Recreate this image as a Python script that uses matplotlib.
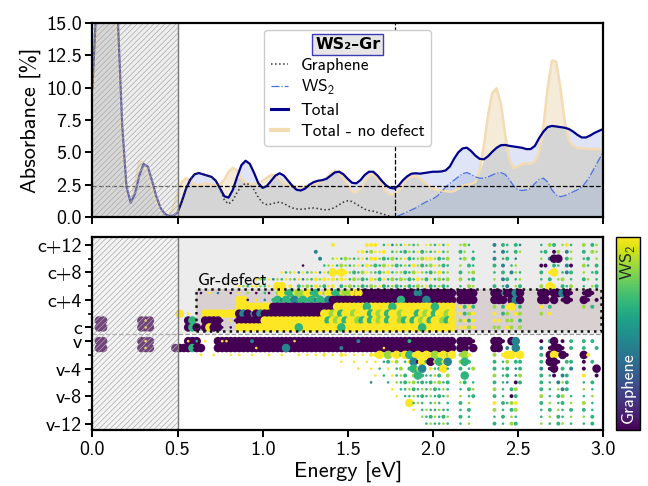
import numpy as np
import matplotlib
matplotlib.use("Agg")
import matplotlib.pyplot as plt
from matplotlib.patches import Rectangle
from matplotlib.lines import Line2D
from matplotlib.font_manager import FontProperties
from matplotlib.colors import Normalize
from matplotlib.cm import ScalarMappable

plt.rcParams['font.family'] = ['cmss10', 'DejaVu Sans']
plt.rcParams['mathtext.fontset'] = 'custom'
plt.rcParams['mathtext.rm'] = 'cmss10'
plt.rcParams['mathtext.it'] = 'cmss10'
plt.rcParams['mathtext.bf'] = 'cmss10'
plt.rcParams['axes.unicode_minus'] = False
plt.rcParams['hatch.linewidth'] = 0.5

# ---------------- absorbance spectra (top panel) ----------------
energy = np.round(np.arange(0, 121) * 0.025, 3)

total = [10, 17, 24, 28, 27, 22, 15, 7, 2.3, 1.1, 1.8, 3.2, 4.1, 3.9, 2.8, 1.6, 0.7, 0.25, 0.08, 0.1,
         0.35, 1.2, 2.2, 2.9, 3.3, 3.4, 3.3, 3.2, 3.1, 2.8, 2.2, 1.6, 1.5, 2.1, 3.1, 4.0, 4.35, 4.1, 3.4, 2.6,
         2.25, 2.4, 2.8, 3.2, 3.38, 3.2, 2.8, 2.4, 2.1, 2.05, 2.2, 2.5, 2.7, 2.8, 2.85, 2.95, 3.2, 3.45, 3.5, 3.3,
         2.95, 2.65, 2.6, 2.85, 3.25, 3.5, 3.5, 3.2, 2.8, 2.45, 2.25, 2.2, 2.45, 2.85, 3.15, 3.35, 3.38, 3.35, 3.4, 3.45,
         3.5, 3.5, 3.52, 3.6, 3.9, 4.5, 5.0, 5.3, 5.36, 5.1, 4.75, 4.5, 4.46, 4.7, 5.05, 5.35, 5.55, 5.57, 5.5, 5.45,
         5.4, 5.35, 5.25, 5.25, 5.5, 6.1, 6.6, 6.95, 7.04, 7.0, 6.95, 6.9, 6.8, 6.6, 6.35, 6.15, 6.15, 6.3, 6.5, 6.65,
         6.8]

no_defect = [9, 16, 23, 27, 25, 19, 12.5, 5.5, 1.8, 1.2, 2.6, 4.3, 4.2, 3.1, 2.0, 1.1, 0.5, 0.15, 0.1, 0.8,
             1.9, 2.7, 3.0, 2.8, 2.5, 2.45, 2.55, 2.6, 2.5, 2.45, 2.5, 2.9, 3.5, 3.8, 3.6, 3.0, 2.65, 2.55, 2.55, 2.65,
             2.8, 3.05, 3.25, 3.2, 2.95, 2.65, 2.45, 2.4, 2.35, 2.3, 2.35, 2.45, 2.55, 2.65, 2.75, 3.0, 3.35, 3.58, 3.45, 3.0,
             2.45, 2.0, 1.9, 2.2, 2.75, 3.2, 3.3, 3.0, 2.5, 2.0, 1.75, 1.75, 2.0, 2.5, 2.95, 3.15, 3.17, 3.0, 2.7, 2.4,
             2.2, 2.1, 2.05, 2.0, 1.95, 2.0, 2.2, 2.4, 2.5, 2.55, 2.7, 3.6, 5.5, 7.9, 9.6, 9.95, 8.8, 6.4, 4.4, 3.8,
             3.9, 4.1, 4.15, 4.1, 4.3, 5.0, 7.0, 10.0, 12.1, 12.0, 10.0, 7.4, 5.9, 5.5, 5.35, 5.3, 5.3, 5.25, 5.25, 5.25,
             5.2]

graphene = [10, 17, 24, 28, 27, 22, 15, 7, 2.3, 1.1, 1.8, 3.2, 4.1, 3.9, 2.8, 1.6, 0.7, 0.25, 0.08, 0.1,
            0.35, 1.2, 2.2, 2.9, 3.3, 3.4, 3.3, 3.2, 3.1, 2.8, 2.2, 1.3, 1.0, 1.3, 1.9, 2.4, 2.6, 2.5, 2.1, 1.5,
            1.1, 0.95, 1.0, 1.1, 1.15, 1.05, 0.85, 0.7, 0.62, 0.6, 0.62, 0.68, 0.7, 0.65, 0.58, 0.55, 0.6, 0.75, 0.95, 1.15,
            1.25, 1.2, 1.0, 0.8, 0.6, 0.5, 0.45, 0.35, 0.25, 0.15, 0.05, 0.0, 0, 0, 0, 0, 0, 0, 0, 0,
            0, 0, 0, 0, 0, 0, 0, 0, 0, 0, 0, 0, 0, 0, 0, 0, 0, 0, 0, 0,
            0, 0, 0, 0, 0, 0, 0, 0, 0, 0, 0, 0, 0, 0, 0, 0, 0, 0, 0, 0,
            0]

ws2 = [0] * 71 + [0.0, 0.1, 0.25, 0.4, 0.55, 0.7, 0.9, 1.1, 1.25, 1.4,
                  1.6, 1.95, 2.3, 2.6, 2.85, 3.1, 3.35, 3.43, 3.3, 3.1, 3.0, 3.0, 3.1, 3.25, 3.4, 3.43, 3.3, 2.9, 2.4, 2.1,
                  2.05, 2.1, 2.2, 2.6, 2.9, 3.0, 2.7, 2.1, 1.7, 1.57, 1.65, 1.8, 1.95, 2.1, 2.3, 2.7, 3.2, 3.8, 4.4, 4.97]

ref_level = 2.42
gap_energy = 1.777

# ---------------- transition map (bottom panel) ----------------
band_ticks = [13, 9, 5, 1, -1, -5, -9, -13]
band_labels = ['c+12', 'c+8', 'c+4', 'c', 'v', 'v-4', 'v-8', 'v-12']
band_minor = [11, 7, 3, -3, -7, -11]

kgrid = np.round(0.0125 + 0.025 * np.arange(120), 4)

C1 = (2.14, 2.26)
C2 = (2.35, 2.53)
C3 = (2.63, 2.82)
C4 = (2.88, 2.98)

band_rows = {
    13: [(1.40, 1.42, '6'), (1.60, 1.68, '66'), (1.70, 2.10, 'gytlgylgl.ylgy'),
         (*C1, 'l5g.'), (*C2, '3.4g.4t'), (*C3, 'g.54.l6g'), (*C4, '5.4l')],
    12: [(1.30, 1.32, '3'), (1.44, 1.46, '6'), (1.55, 1.72, 'y6g5y'), (1.75, 2.10, 'glg4lgy4lgly'),
         (*C1, '4l.g'), (*C2, 't.3g.4l'), (*C3, 'g4.15.3l'), (*C4, '4.5l')],
    11: [(1.33, 1.36, '3'), (1.40, 1.62, 'lyg5lg'), (1.62, 2.10, '66l4g5gly4gl5'),
         (*C1, 'g5.4'), (*C2, '3.g4.t.'), (*C3, 'l.3PP.4'), (*C4, 'g4.l')],
    10: [(1.23, 1.26, 'pp'), (1.35, 1.60, 'glyg5l'), (1.60, 2.10, '6l4g5yl4glg'),
         (*C1, 'l.4g'), (*C2, '4.3.gl.'), (*C3, '11.4g.3'), (*C4, '5g.4')],
    9: [(1.10, 1.40, 'yglyt'), (1.40, 1.50, 'Y6'), (1.50, 2.10, 'l4g5ylg4l6gl'),
        (*C1, '4.l5'), (*C2, 'g.4.3l'), (*C3, '4.6Y.g3'), (*C4, 'l.g4')],
    8: [(0.95, 1.30, 'ylgytlg'), (1.30, 1.50, '6l6y'), (1.50, 2.10, 'g5l4g6l4yg5'),
        (*C1, '5.g4'), (*C2, 'l.34.g'), (*C3, 'g.4.l5.'), (*C4, '4l.g')],
    7: [(0.85, 1.05, 'ylgy'), (1.08, 1.12, 'Y'), (1.15, 1.55, '6.4l5g6l4y'), (1.55, 2.10, 'l4g5ly4gl4g'),
        (*C1, 'g.5l'), (*C2, '4.g3.l'), (*C3, '5.Y6.4g'), (*C4, 'g.l4')],
    6: [(0.62, 1.07, 'p.y.t..p.y.l.p.g'), (1.07, 1.54, '5Y4G6L5Y4G6'), (1.54, 2.12, 'P'),
        (1.55, 1.57, 'Y'), (1.74, 1.76, 'T'), (1.90, 1.92, 'T'),
        (*C1, 'PPPP'), (*C2, 'PP3PPTP'), (*C3, 'PP1PPTP1'), (*C4, '1P1.')],
    5: [(0.86, 0.89, 'Y'), (0.90, 1.04, 'p.y.t.'), (1.05, 1.40, '4G3G4T4G'), (1.40, 2.12, 'P'),
        (1.80, 1.82, 'G'), (1.95, 1.97, 'T'),
        (*C1, 'PPPP'), (*C2, 'PPP.PTP'), (*C3, 'PP.P.1P1'), (*C4, 'P1.1')],
    4: [(0.60, 0.62, 'y'), (0.86, 1.05, 'Y'), (1.05, 1.42, 'P'), (1.42, 2.12, 'Y'),
        (1.60, 1.62, 'G'), (1.75, 1.77, 'G'), (2.00, 2.02, 'G'),
        (*C1, '6464'), (*C2, '5.46Y.4'), (*C3, '6.4.....'), (*C4, '5.4.')],
    3: [(0.51, 0.53, 'Y'), (0.56, 0.58, 'y'), (0.64, 0.74, 'Y'), (0.76, 0.84, 'Y'), (0.84, 1.01, 'PTP3PTP'),
        (1.01, 1.37, 'P'), (1.36, 1.38, 'Y'), (1.37, 2.12, 'YLYGYYLY6YG'),
        (*C1, '6456'), (*C2, '6.45.65'), (*C3, '5.6.....')],
    2: [(0.02, 0.07, 'P'), (0.27, 0.36, 'P'), (0.04, 0.05, 'y'), (0.30, 0.32, 'y'),
        (0.56, 0.60, 'PG'), (0.66, 0.74, 'P'), (0.76, 0.84, 'p.y'), (0.84, 1.01, 'P'),
        (1.01, 1.37, 'Y'), (1.37, 2.12, 'GYLYGYYLGY'), (*C1, '5646'), (*C2, '66.55.4')],
    1: [(0.02, 0.07, 'P'), (0.27, 0.36, 'P'), (0.04, 0.05, 'y'), (0.30, 0.32, 'y'),
        (0.54, 0.62, 'PGP'), (0.66, 0.74, 'PYP'), (0.76, 0.86, 'p.p.'), (0.86, 2.12, 'Y'),
        (1.20, 1.22, 'G'), (1.45, 1.47, 'G'), (1.92, 1.94, 'G'),
        (*C1, '6656'), (*C2, '55.65.5')],
    -1: [(0.02, 0.07, 'P'), (0.27, 0.36, 'P'), (0.04, 0.05, 'y'), (0.30, 0.32, 'y'),
         (0.55, 0.62, 'P'), (0.56, 0.58, 'y'), (0.60, 0.62, 'g'), (0.64, 0.68, 'yy'), (0.72, 2.12, 'P'),
         (0.75, 0.80, 'yy'), (0.93, 0.95, '3'), (1.17, 1.19, 'y'), (1.34, 1.36, 'G'), (1.55, 1.57, '3'),
         (1.86, 1.88, '4'),
         (*C1, 'PPP1'), (*C2, 'PP1.PT.'), (*C3, '1.4P.1.4'), (*C4, '4.4.')],
    -2: [(0.02, 0.07, 'P'), (0.27, 0.36, 'P'), (0.04, 0.05, 'y'), (0.30, 0.32, 'y'),
         (0.48, 0.54, 'P'), (0.56, 0.66, 'PGP'), (0.58, 0.60, 'g'), (0.72, 2.12, 'P'),
         (0.95, 0.97, 'y'), (1.12, 1.14, 'T'), (1.45, 1.47, '3'), (1.70, 1.72, 'y'),
         (*C1, 'PP.P'), (*C2, 'PP.3.T.'), (*C3, '3.1PP1.4'), (*C4, '4..4')],
    -3: [(0.62, 1.24, 'y..y...y.y..y...'), (1.25, 1.66, 'y.y.6.y.6y.'), (1.66, 2.12, '6Y6L6Y5YG6Y'),
         (*C1, '5L6.'), (*C2, '5.6YY.Y'), (*C3, '4.PY6P1.'), (*C4, 'P6..')],
    -4: [(1.45, 1.47, 'y'), (1.52, 1.54, 'y'), (1.60, 1.72, 'y.y.g'), (1.72, 1.84, '4y5.g'),
         (1.84, 2.10, '6T1Y4P5G6T'),
         (*C1, '5G4.'), (*C2, '4.g5.4'), (*C3, '4.PP1.4'), (*C4, '1.4.')],
    -5: [(1.55, 1.57, 'y'), (1.62, 1.76, 'y.g.y'), (1.77, 2.10, 'g5.4G5T.6g4Y'),
         (*C1, '4.g5'), (*C2, '4.g4.t'), (*C3, '3.1P.4.'), (*C4, '1..P')],
    -6: [(1.66, 1.68, 'y'), (1.70, 1.78, 'g.y'), (1.78, 2.10, 'gl4.5G4g'), (2.17, 2.19, 'G'),
         (*C2, '5.g4.t'), (*C3, '4.g1.3'), (*C4, '6..1')],
    -7: [(1.62, 1.64, 't'), (1.72, 1.80, 'g.l'), (1.80, 2.10, 'g4l5g4'),
         (*C1, 'l4.g'), (*C2, '4.gt.1'), (*C3, '4.g.3l'), (*C4, 'g.4.')],
    -8: [(1.75, 1.82, 'y.g'), (1.82, 2.10, 'gl4gl'),
         (*C1, 'g.4l'), (*C2, '5.g.4'), (*C3, '4.g.l3'), (*C4, 'l.g.')],
    -9: [(1.78, 1.84, 'y.g'), (1.84, 2.10, 'glg4'),
         (*C1, 'l.g4'), (*C2, '4.g.1'), (*C3, '5.g.4'), (*C4, 'g.l.')],
    -10: [(1.86, 1.88, 'Y'), (1.88, 2.10, 'glg.'),
          (*C1, '4.l.'), (*C2, '6.4g5'), (*C3, '4.l.g'), (*C4, '5.g.')],
    -11: [(1.88, 1.90, 'y'), (1.92, 2.10, 'glg'),
          (*C1, 'g.4.'), (*C2, '5.g.4'), (*C3, 'g.4.l'), (*C4, '4.g.')],
    -12: [(1.92, 2.10, 'lg4'),
          (*C1, '4.g.'), (*C2, 'g.4.l'), (*C3, 'g.l.4'), (*C4, 'l.4.')],
    -13: [(1.95, 2.10, 'glg'),
          (*C1, 'g.l.'), (*C2, '4.g.5'), (*C3, 'l.g.4'), (*C4, 'g.4.')],
}

# weight code -> (WS2 fraction, size class)
char_frac = {'p': 0.0, 'b': 0.25, 't': 0.45, 'g': 0.65, 'l': 0.85, 'y': 1.0}
digit_frac = {'1': 0.0, '2': 0.25, '3': 0.45, '4': 0.65, '5': 0.85, '6': 1.0}
size_of = {'big': 38, 'med': 8, 'small': 3.5}

xs, ys, cs, ss = [], [], [], []
for row, segs in band_rows.items():
    for e0, e1, pat in segs:
        cols = kgrid[(kgrid >= e0) & (kgrid <= e1)]
        for k, e in enumerate(cols):
            ch = pat[k % len(pat)]
            if ch == '.':
                continue
            if ch.isdigit():
                frac, sz = digit_frac[ch], 'med'
            elif ch.isupper():
                frac, sz = char_frac[ch.lower()], 'big'
            else:
                frac, sz = char_frac[ch], 'small'
            xs.append(e); ys.append(row); cs.append(frac); ss.append(size_of[sz])

# ---------------- figure ----------------
fig = plt.figure(figsize=(6.48, 4.86), dpi=100)
ax1 = fig.add_axes([0.1427, 0.5535, 0.7878, 0.3992])
ax2 = fig.add_axes([0.1427, 0.1142, 0.7878, 0.3988])
cax = fig.add_axes([0.9506, 0.1142, 0.037, 0.3988])

E = np.array(energy)
tot = np.array(total); nod = np.array(no_defect); gra = np.array(graphene); ws = np.array(ws2)

ax1.fill_between(E, 0, np.minimum(tot, nod), color='#d5d5d5', lw=0, zorder=1)
ax1.fill_between(E, nod, tot, where=tot >= nod, interpolate=True, color='#dfe4f6', lw=0, zorder=1)
ax1.fill_between(E, tot, nod, where=nod > tot, interpolate=True, color='#f4ebd8', lw=0, zorder=1)
ax1.fill_between(E, 0, ws, color='#6f8fd0', alpha=0.22, lw=0, zorder=1.5)

ax1.plot(E, nod, color='#f3dcb2', lw=1.8, zorder=2)
ax1.plot(E, tot, color='#00008b', lw=1.6, zorder=3)
ax1.plot(E, gra, color='#333333', ls=':', lw=1.1, zorder=3)
ax1.plot(E, ws, color='#4a6fe3', ls='-.', lw=0.9, zorder=3)
ax1.axhline(ref_level, color='k', ls='--', lw=0.9, zorder=4)
ax1.axvline(gap_energy, color='k', ls='--', lw=0.9, zorder=4)

ax1.add_patch(Rectangle((0, 0), 0.5, 15, facecolor=(0.86, 0.86, 0.86, 0.45), edgecolor='#a8a8a8',
                        hatch='//////', lw=0, zorder=5))
ax1.axvline(0.5, color='#777777', lw=1.0, zorder=6)

ax1.set_xlim(0, 3)
ax1.set_ylim(0, 15)
ax1.set_yticks([0, 2.5, 5, 7.5, 10, 12.5, 15])
ax1.set_yticklabels(['0.0', '2.5', '5.0', '7.5', '10.0', '12.5', '15.0'])
ax1.set_xticks([0, 0.5, 1, 1.5, 2, 2.5, 3])
ax1.set_xticklabels([])
ax1.set_ylabel('Absorbance [%]', fontsize=16, labelpad=4)

handles = [Line2D([], [], color='#333333', ls=':', lw=1.1),
           Line2D([], [], color='#4a6fe3', ls='-.', lw=0.9),
           Line2D([], [], color='#00008b', lw=2.2),
           Line2D([], [], color='#f3dcb2', lw=3)]
labels = ['Graphene', 'WS$_2$', 'Total', 'Total - no defect']
leg = ax1.legend(handles, labels, loc='upper center', bbox_to_anchor=(0.5, 1.0),
                 title='WS\u2082\u2013Gr',
                 title_fontproperties=FontProperties(family='DejaVu Sans', weight='bold', size=11.5),
                 fontsize=12.5, handlelength=1.0, handletextpad=0.7, labelspacing=0.32,
                 borderpad=0.4, borderaxespad=0.4, framealpha=1, edgecolor='#cccccc')
leg.get_title().set_bbox(dict(boxstyle='square,pad=0.18', facecolor='#e6e6e6', edgecolor='#3b3bb3', lw=1))
leg.set_zorder(20)

# bottom panel
ax2.add_patch(Rectangle((0.5, 0), 2.5, 15, facecolor='#ececec', lw=0, zorder=0))
ax2.add_patch(Rectangle((0.61, 0.45), 2.376, 6.1, facecolor='#d9d0d2', lw=0, zorder=0.5))
ax2.add_patch(Rectangle((0.61, 0.45), 2.376, 6.1, facecolor='none', edgecolor='#111111', ls=':', lw=1.8, zorder=4))
ax2.text(0.62, 6.7, 'Gr-defect', fontsize=13, ha='left', va='bottom', zorder=4)
ax2.axhline(0, color='#999999', ls='--', lw=0.9, zorder=1)

norm = Normalize(0, 1)
ax2.scatter(xs, ys, c=cs, s=ss, cmap='viridis', norm=norm, linewidths=0, zorder=3)

ax2.add_patch(Rectangle((0, -15), 0.5, 30, facecolor=(0.86, 0.86, 0.86, 0.3), edgecolor='#a8a8a8',
                        hatch='//////', lw=0, zorder=5))
ax2.axvline(0.5, color='#777777', lw=1.0, zorder=6)

ax2.set_xlim(0, 3)
ax2.set_ylim(-14.0, 14.2)
ax2.set_xticks([0, 0.5, 1, 1.5, 2, 2.5, 3])
ax2.set_xticklabels(['0.0', '0.5', '1.0', '1.5', '2.0', '2.5', '3.0'])
ax2.set_yticks(band_ticks)
ax2.set_yticklabels(band_labels)
ax2.set_yticks(band_minor, minor=True)
ax2.set_xlabel('Energy [eV]', fontsize=16, labelpad=1)

for ax in (ax1, ax2):
    for sp in ax.spines.values():
        sp.set_linewidth(1.6)
        sp.set_zorder(10)
    ax.tick_params(which='major', direction='out', length=5, width=1.4, labelsize=14.5, pad=2.5)
    ax.tick_params(which='minor', direction='out', length=3, width=1.2)

sm = ScalarMappable(norm=norm, cmap='viridis')
cb = fig.colorbar(sm, cax=cax)
cb.set_ticks([])
cb.outline.set_linewidth(1.0)
cax.text(0.5, 0.96, 'WS$_2$', rotation=90, ha='center', va='top', fontsize=13,
         color='#222222', transform=cax.transAxes)
cax.text(0.5, 0.04, 'Graphene', rotation=90, ha='center', va='bottom', fontsize=13,
         color='white', transform=cax.transAxes)

fig.savefig('out.png', dpi=100)
